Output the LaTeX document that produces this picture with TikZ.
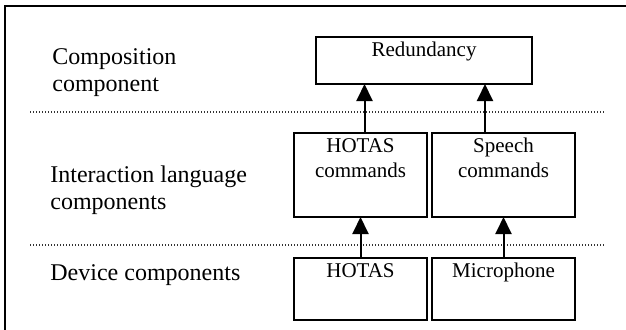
\documentclass[tikz,border=0pt]{standalone}
\usepackage{fontspec}
\setmainfont{Liberation Serif}
\usetikzlibrary{arrows.meta,calc}
\tikzset{
  unit/.style  ={rectangle, draw, line width=0.9pt, anchor=north west, inner sep=0pt, outer sep=0pt},
  intext/.style={anchor=north, align=center, inner sep=2.5pt, font=\fontsize{10.5}{12.5}\selectfont},
  tier/.style  ={anchor=north west, align=left, inner sep=0pt, font=\fontsize{12}{13.5}\selectfont},
  flow/.style  ={-{Triangle[length=8.5pt,width=8pt]}, line width=1pt},
  sep/.style   ={line width=0.6pt, dash pattern=on 0.6pt off 0.9pt, black!80}
}
\begin{document}
\begin{tikzpicture}[x=0.5pt,y=-0.5pt]
\useasboundingbox (0,0) rectangle (626,329);
% frame
\draw[line width=1pt] (5,345) |- (645,6);
% tier labels and separators
\node[tier] (comp) at (52,48) {Composition\\component};
\node[tier] (lang) at (50,165) {Interaction language\\components};
\node[tier] (dev)  at (50,264) {Device components};
\draw[sep] (30,112) -- (605,112);
\draw[sep] (30,245) -- (605,245);
% boxes
\node[unit, minimum width=108pt, minimum height=23.5pt, label={[intext]north:Redundancy}] (red) at (316,37) {};
\node[unit, minimum width=66.5pt, minimum height=42pt, label={[intext]north:{HOTAS\\commands}}] (hcmd) at (294,133) {};
\node[unit, minimum width=71.5pt, minimum height=42pt, label={[intext]north:{Speech\\commands}}] (scmd) at (432,133) {};
\node[unit, minimum width=66.5pt, minimum height=31pt, label={[intext]north:HOTAS}] (hotas) at (294,258) {};
\node[unit, minimum width=71.5pt, minimum height=31pt, label={[intext]north:Microphone}] (mic) at (432,258) {};
% arrows
\draw[flow] ([xshift=2pt]hcmd.north) -- ([xshift=2pt]hcmd.north |- red.south);
\draw[flow] ([xshift=-9.25pt]scmd.north) -- ([xshift=-9.25pt]scmd.north |- red.south);
\draw[flow] (hotas.north) -- (hcmd.south);
\draw[flow] (mic.north) -- (scmd.south);
\end{tikzpicture}
\end{document}
